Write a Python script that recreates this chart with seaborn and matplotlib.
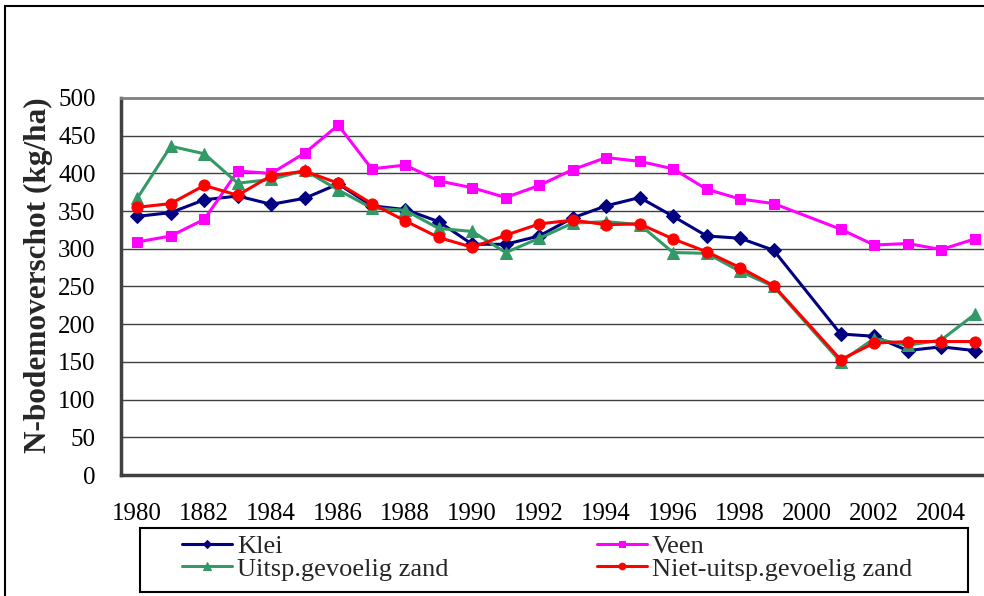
import matplotlib
matplotlib.use("Agg")
import matplotlib.pyplot as plt
from matplotlib.patches import Rectangle
import numpy as np
import pandas as pd
import seaborn as sns

# years shown in the chart (2000 has no value in any series)
years = [1980, 1981, 1982, 1983, 1984, 1985, 1986, 1987, 1988, 1989,
         1990, 1991, 1992, 1993, 1994, 1995, 1996, 1997, 1998, 1999,
         2001, 2002, 2003, 2004, 2005]

klei = [343, 348, 365, 370, 359, 367, 386, 357, 352, 336,
        306, 306, 317, 341, 357, 368, 343, 317, 314, 298,
        187, 184, 165, 170, 165]
veen = [309, 317, 339, 403, 400, 427, 464, 406, 411, 390,
        381, 368, 384, 405, 421, 416, 406, 379, 366, 360,
        326, 305, 307, 299, 313]
uitsp = [367, 436, 426, 387, 392, 404, 378, 354, 351, 327,
         323, 295, 314, 334, 336, 332, 295, 294, 270, 250,
         150, 181, 172, 179, 213]
niet = [355, 360, 384, 371, 397, 403, 387, 360, 337, 315,
        302, 318, 333, 338, 332, 333, 313, 296, 275, 251,
        153, 175, 177, 177, 177]

series_names = ["Klei", "Veen", "Uitsp.gevoelig zand", "Niet-uitsp.gevoelig zand"]
tick_years = [1980, 1982, 1984, 1986, 1988, 1990, 1992, 1994, 1996, 1998, 2000, 2002, 2004]
tick_labels = ["1980", "1882", "1984", "1986", "1988", "1990", "1992",
               "1994", "1996", "1998", "2000", "2002", "2004"]

df = pd.DataFrame({"jaar": years, "Klei": klei, "Veen": veen,
                   "Uitsp.gevoelig zand": uitsp, "Niet-uitsp.gevoelig zand": niet})

sns.set_style("white")
plt.rcParams['font.family'] = ['Liberation Serif', 'DejaVu Serif']

fig = plt.figure(figsize=(9.84, 5.96), dpi=100)
ax = fig.add_axes([0.1225, 0.203, 0.885, 0.6326])

styles = {
    "Klei": ("#000080", "D", 7),
    "Veen": ("#FF00FF", "s", 7.5),
    "Uitsp.gevoelig zand": ("#339966", "^", 8.5),
    "Niet-uitsp.gevoelig zand": ("#FF0000", "o", 8),
}

for name in series_names:
    col, mk, ms = styles[name]
    sns.lineplot(data=df, x="jaar", y=name, ax=ax, color=col, marker=mk,
                 markersize=ms, markeredgecolor=col, markerfacecolor=col,
                 linewidth=2.2, label=name)

ax.set_xlim(1979.5, 2005.5)
ax.set_ylim(0, 500)
ax.set_yticks(np.arange(0, 501, 50))
ax.set_xticks(tick_years)
ax.set_xticklabels(tick_labels)
ax.set_xticks(np.arange(1979.5, 2006, 1), minor=True)
ax.tick_params(axis='x', which='major', length=0, pad=20, labelsize=18, colors='black')
ax.tick_params(axis='x', which='minor', length=6, width=1.2, color='#404040', direction='out')
ax.tick_params(axis='y', which='major', length=5, width=1.2, color='#404040',
               direction='out', pad=13, labelsize=18, labelcolor='black')
ax.set_xlabel("")
ax.set_ylabel("N-bodemoverschot (kg/ha)", fontsize=22.5, fontweight='bold')
ax.yaxis.set_label_coords(-0.078, 0.53)

ax.yaxis.grid(True, color='#404040', linewidth=1)
ax.set_axisbelow(True)
ax.spines['left'].set_color('#404040')
ax.spines['left'].set_linewidth(2.5)
ax.spines['bottom'].set_color('#404040')
ax.spines['bottom'].set_linewidth(2.5)
ax.spines['top'].set_color('#808080')
ax.spines['top'].set_linewidth(2)
ax.spines['right'].set_visible(False)

handles, labels = ax.get_legend_handles_labels()
ax.get_legend().remove()
order = [0, 2, 1, 3]
leg = fig.legend([handles[i] for i in order], [labels[i] for i in order],
                 ncol=2, loc='upper left', bbox_to_anchor=(182 / 984, 1 - 535 / 596),
                 borderaxespad=0, borderpad=0, fontsize=19, frameon=False,
                 handlelength=1.9, handletextpad=0.2, labelspacing=-0.05,
                 columnspacing=5.6, markerscale=0.6)

# legend box
fig.add_artist(Rectangle((140 / 984, 1 - 592 / 596), 828 / 984, 64 / 596,
                         transform=fig.transFigure, fill=False, edgecolor='black',
                         linewidth=1.5))

# outer chart border
fig.add_artist(Rectangle((5 / 984, -0.1), 1.2, 1 - 6 / 596 + 0.1, transform=fig.transFigure,
                         fill=False, edgecolor='black', linewidth=1.5, clip_on=False))

fig.savefig("out.png", dpi=100)
